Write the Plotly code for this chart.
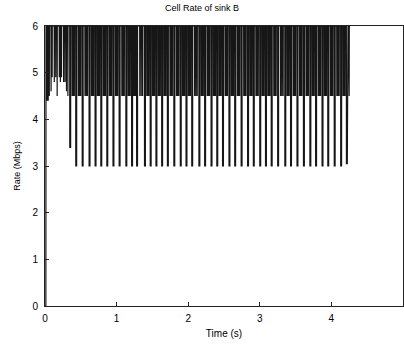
import plotly.graph_objects as go

# ---- data ----
title_text = "Cell Rate of sink B"
x_label = "Time (s)"
y_label = "Rate (Mbps)"
x_ticks = [0, 1, 2, 3, 4, 5]
y_ticks = [0, 1, 2, 3, 4, 5, 6]

# start-up: rate jumps from 0 to the 6 Mbps ceiling
start_t = [0.0, 0.012, 0.014]
start_rate = [0.0, 0.0, 6.0]

# early shallow dips (before the deep dip pattern begins)
early_t = [0.03, 0.045, 0.06, 0.085, 0.10, 0.13, 0.15, 0.17, 0.20, 0.215,
           0.23, 0.26, 0.28, 0.30, 0.32]
early_rate = [4.4, 4.4, 4.5, 4.6, 4.9, 4.8, 4.9, 4.5, 4.9, 4.8,
              4.9, 4.8, 4.8, 4.6, 4.5]

# deep dips (times and floor levels)
dip_t = [0.346, 0.43, 0.52, 0.616, 0.70, 0.78, 0.864, 0.95, 1.036, 1.13,
         1.21, 1.28, 1.39, 1.47, 1.55, 1.63, 1.71, 1.80, 1.89, 1.97,
         2.05, 2.15, 2.23, 2.32, 2.40, 2.48, 2.57, 2.65, 2.74, 2.83,
         2.91, 3.00, 3.08, 3.16, 3.25, 3.35, 3.43, 3.52, 3.61, 3.70,
         3.78, 3.87, 3.95, 4.04, 4.13, 4.21]
dip_rate = [3.4, 3.0, 3.0, 3.0, 3.0, 3.0, 3.0, 3.0, 3.0, 3.0,
            3.0, 3.0, 3.0, 3.0, 3.0, 3.0, 3.0, 3.0, 3.0, 3.0,
            3.0, 3.0, 3.0, 3.0, 3.0, 3.0, 3.0, 3.0, 3.0, 3.0,
            3.0, 3.0, 3.0, 3.0, 3.0, 3.0, 3.0, 3.0, 3.0, 3.0,
            3.0, 3.0, 3.0, 3.0, 3.0, 3.05]
band_floor = 4.5      # shallow oscillation floor between the deep dips
band_pulses = [0.40, 0.58, 0.76]   # positions of shallow pulses within a cycle
peak_rate = 6.0
end_t = 4.26

# ---- build the line path from the values above ----
xs = list(start_t)
ys = list(start_rate)
for t, r in zip(early_t, early_rate):
    xs += [t - 0.002, t, t + 0.002]
    ys += [peak_rate, r, peak_rate]
for i, (t, r) in enumerate(zip(dip_t, dip_rate)):
    nxt = dip_t[i + 1] if i + 1 < len(dip_t) else end_t
    gap = nxt - t
    # deep dip: a short stay at the floor gives the thick black bar
    xs += [t - 0.001, t, t + 0.012, t + 0.013]
    ys += [peak_rate, r, r, peak_rate]
    # shallow pulses down to the band floor
    for f in band_pulses:
        tm = t + f * gap
        xs += [tm - 0.002, tm, tm + 0.002]
        ys += [peak_rate, band_floor, peak_rate]
xs.append(end_t)
ys.append(peak_rate)

fig = go.Figure()
fig.add_trace(go.Scatter(x=xs, y=ys, mode="lines",
                         line=dict(color="#161616", width=1.2),
                         showlegend=False, hoverinfo="skip"))

axis_font = dict(family="Liberation Sans, Arial, sans-serif", size=10, color="#000")
fig.update_layout(
    width=404, height=345,
    margin=dict(l=45, r=1, t=26, b=39),
    paper_bgcolor="white", plot_bgcolor="white",
    title=dict(text=title_text, x=0.5, xanchor="center", y=0.985, yanchor="top",
               font=dict(family="Liberation Sans, Arial, sans-serif", size=9, color="#000")),
    font=axis_font,
)
fig.update_xaxes(range=[0, 5], tickvals=x_ticks, ticktext=[str(v) for v in x_ticks],
                 showgrid=False, zeroline=False, showline=True, mirror=True,
                 linecolor="#222", linewidth=1, ticks="inside", ticklen=4,
                 tickcolor="#222", tickfont=axis_font, ticklabelstandoff=3,
                 title=dict(text=x_label, standoff=6, font=dict(size=10)))
fig.update_yaxes(range=[0, 6], tickvals=y_ticks, ticktext=[str(v) for v in y_ticks],
                 showgrid=False, zeroline=False, showline=True, mirror=True,
                 linecolor="#222", linewidth=1, ticks="inside", ticklen=4,
                 tickcolor="#222", tickfont=axis_font, ticklabelstandoff=4,
                 title=dict(text=y_label, standoff=10, font=dict(size=9)))

fig.write_html("out.html")
